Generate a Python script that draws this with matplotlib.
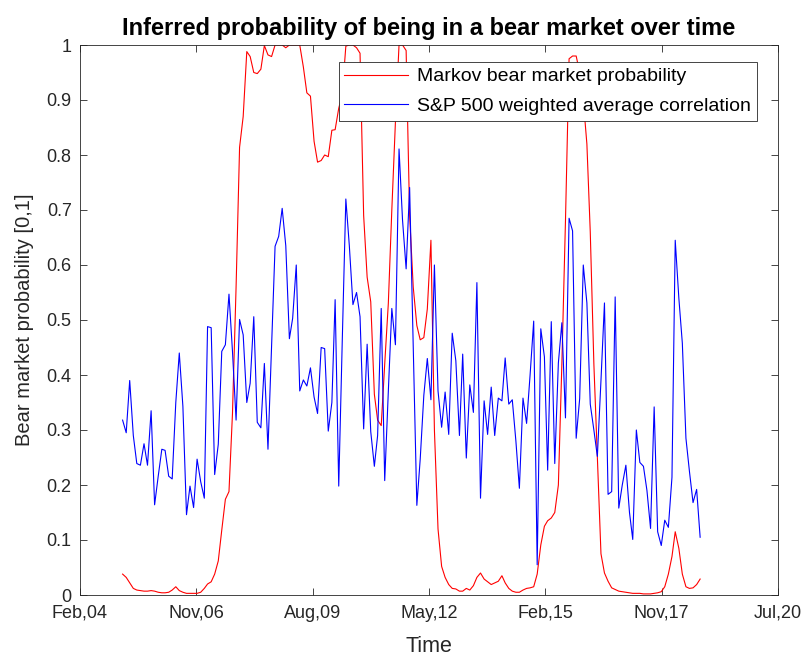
import numpy as np
import pandas as pd
import matplotlib
matplotlib.use("Agg")
import matplotlib.pyplot as plt
from matplotlib.ticker import FuncFormatter, MultipleLocator
import matplotlib.dates as mdates

plt.rcParams['font.family'] = ['Liberation Sans', 'DejaVu Sans']

# monthly Markov-switching bear state probability
bear_prob = [
    0.038, 0.032, 0.022, 0.012, 0.009, 0.008, 0.007, 0.007, 0.008, 0.007,
    0.005, 0.004, 0.004, 0.005, 0.009, 0.015, 0.008, 0.005, 0.003, 0.003,
    0.003, 0.003, 0.005, 0.012, 0.020, 0.024, 0.038, 0.062, 0.118, 0.174,
    0.188, 0.330, 0.560, 0.814, 0.870, 0.988, 0.979, 0.950, 0.948, 0.956,
    0.999, 0.982, 0.979, 1.000, 1.000, 1.000, 0.995, 1.000, 1.000, 1.000,
    1.000, 0.960, 0.913, 0.907, 0.825, 0.787, 0.790, 0.800, 0.797, 0.845,
    0.846, 0.885, 0.910, 0.998, 1.000, 1.000, 0.995, 0.985, 0.690, 0.578,
    0.533, 0.365, 0.318, 0.308, 0.420, 0.530, 0.700, 0.860, 1.000, 1.000,
    0.990, 0.690, 0.560, 0.490, 0.464, 0.468, 0.520, 0.645, 0.300, 0.120,
    0.052, 0.032, 0.019, 0.012, 0.011, 0.007, 0.007, 0.012, 0.009, 0.017,
    0.032, 0.040, 0.029, 0.024, 0.019, 0.022, 0.025, 0.035, 0.022, 0.012,
    0.007, 0.005, 0.005, 0.009, 0.012, 0.013, 0.015, 0.038, 0.091, 0.125,
    0.135, 0.140, 0.150, 0.200, 0.420, 0.680, 0.975, 0.980, 0.980, 0.950,
    0.900, 0.820, 0.660, 0.420, 0.250, 0.075, 0.040, 0.025, 0.013, 0.010,
    0.007, 0.006, 0.005, 0.004, 0.003, 0.003, 0.003, 0.002, 0.002, 0.002,
    0.003, 0.004, 0.006, 0.015, 0.038, 0.070, 0.115, 0.085, 0.038, 0.015,
    0.012, 0.013, 0.019, 0.029,
]

# monthly weighted average pairwise correlation of S&P 500 constituents
avg_corr = [
    0.318, 0.295, 0.390, 0.290, 0.239, 0.236, 0.275, 0.236, 0.335, 0.164,
    0.216, 0.265, 0.263, 0.216, 0.211, 0.350, 0.440, 0.343, 0.146, 0.198,
    0.159, 0.247, 0.206, 0.176, 0.488, 0.486, 0.219, 0.274, 0.443, 0.455,
    0.547, 0.443, 0.318, 0.501, 0.473, 0.350, 0.385, 0.506, 0.314, 0.304,
    0.421, 0.265, 0.450, 0.634, 0.652, 0.703, 0.635, 0.466, 0.503, 0.600,
    0.371, 0.391, 0.380, 0.413, 0.360, 0.330, 0.450, 0.448, 0.298, 0.350,
    0.537, 0.198, 0.460, 0.720, 0.635, 0.528, 0.550, 0.506, 0.302, 0.456,
    0.297, 0.234, 0.290, 0.521, 0.208, 0.370, 0.521, 0.455, 0.811, 0.682,
    0.593, 0.741, 0.450, 0.163, 0.247, 0.363, 0.430, 0.355, 0.600, 0.371,
    0.305, 0.369, 0.292, 0.476, 0.426, 0.290, 0.438, 0.249, 0.382, 0.332,
    0.568, 0.176, 0.353, 0.292, 0.378, 0.290, 0.358, 0.353, 0.431, 0.347,
    0.355, 0.280, 0.194, 0.358, 0.312, 0.400, 0.498, 0.055, 0.484, 0.433,
    0.227, 0.497, 0.239, 0.422, 0.495, 0.322, 0.685, 0.662, 0.285, 0.357,
    0.600, 0.531, 0.347, 0.300, 0.252, 0.390, 0.531, 0.183, 0.188, 0.542,
    0.158, 0.200, 0.236, 0.150, 0.101, 0.300, 0.241, 0.234, 0.190, 0.121,
    0.342, 0.115, 0.090, 0.136, 0.123, 0.214, 0.645, 0.540, 0.458, 0.285,
    0.225, 0.168, 0.192, 0.105,
]

dates = pd.date_range("2005-02-28", periods=len(bear_prob), freq="ME")

x_start = pd.Timestamp("2004-02-28")
x_end = x_start + pd.Timedelta(days=5997)
tick_dates = [x_start + pd.Timedelta(days=999.5 * k) for k in range(7)]

fig = plt.figure(figsize=(8.05, 6.59), dpi=100)
ax = fig.add_axes([80 / 805, 64 / 659, 698 / 805, 550 / 659])

ax.plot(dates, bear_prob, color='r', lw=0.8, label='Markov bear market probability')
ax.plot(dates, avg_corr, color='b', lw=0.8, label='S&P 500 weighted average correlation')

ax.set_xlim(x_start, x_end)
ax.set_ylim(0, 1)
ax.set_xticks(tick_dates)
ax.xaxis.set_major_formatter(mdates.DateFormatter('%b,%y'))
ax.yaxis.set_major_locator(MultipleLocator(0.1))
ax.yaxis.set_major_formatter(FuncFormatter(lambda v, p: '%g' % round(v, 1)))

dark = '#262626'
ax.tick_params(direction='in', top=True, right=True, length=5, width=0.6,
               colors=dark, labelsize=13)
ax.tick_params(axis='x', pad=7)
ax.tick_params(axis='y', pad=6)
for s in ax.spines.values():
    s.set_linewidth(0.6)
    s.set_color(dark)

ax.set_title('Inferred probability of being in a bear market over time',
             fontsize=17, fontweight='bold', pad=7)
ax.set_xlabel('Time', fontsize=15.5, color=dark, labelpad=10)
ax.set_ylabel('Bear market probability [0,1]', fontsize=14.5, color=dark, labelpad=9)

leg = ax.legend(loc='upper right', bbox_to_anchor=(0.970, 0.969), borderaxespad=0,
                fancybox=False, edgecolor=dark, framealpha=1, fontsize=14,
                handlelength=3.25, borderpad=0.3, labelspacing=0.6, handletextpad=0.5)
leg.get_frame().set_linewidth(0.6)

fig.savefig('out.png', dpi=100)
